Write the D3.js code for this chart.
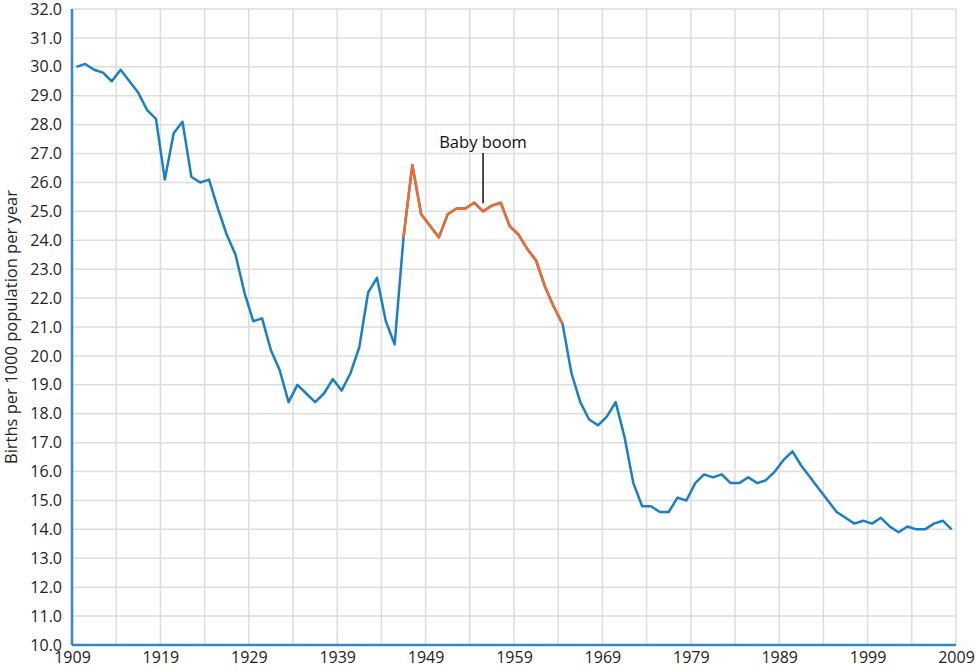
<!DOCTYPE html>
<html>
<head>
<meta charset="utf-8">
<script src="https://cdn.jsdelivr.net/npm/d3@7"></script>
<style>
  html, body { margin: 0; padding: 0; background: #fff; }
  svg { display: block; font-family: "Open Sans", sans-serif; }
</style>
</head>
<body>
<svg id="chart" width="976" height="671"></svg>
<script>
const startYear = 1909;
const birthRates = [
  30.0, 30.1, 29.9, 29.8, 29.5, 29.9, 29.5, 29.1, 28.5, 28.2,
  26.1, 27.7, 28.1, 26.2, 26.0, 26.1, 25.1, 24.2, 23.5, 22.2,
  21.2, 21.3, 20.2, 19.5, 18.4, 19.0, 18.7, 18.4, 18.7, 19.2,
  18.8, 19.4, 20.3, 22.2, 22.7, 21.2, 20.4, 24.1, 26.6, 24.9,
  24.5, 24.1, 24.9, 25.1, 25.1, 25.3, 25.0, 25.2, 25.3, 24.5,
  24.2, 23.7, 23.3, 22.4, 21.7, 21.1, 19.4, 18.4, 17.8, 17.6,
  17.9, 18.4, 17.2, 15.6, 14.8, 14.8, 14.6, 14.6, 15.1, 15.0,
  15.6, 15.9, 15.8, 15.9, 15.6, 15.6, 15.8, 15.6, 15.7, 16.0,
  16.4, 16.7, 16.2, 15.8, 15.4, 15.0, 14.6, 14.4, 14.2, 14.3,
  14.2, 14.4, 14.1, 13.9, 14.1, 14.0, 14.0, 14.2, 14.3, 14.0
];
const boomStart = 1946, boomEnd = 1964;
const annotationYear = 1955;
const annotationText = "Baby boom";
const xTickLabels = [1909, 1919, 1929, 1939, 1949, 1959, 1969, 1979, 1989, 1999, 2009];
const yTicks = d3.range(10, 32.5, 1);
const yLabel = "Births per 1000 population per year";

const data = birthRates.map((v, i) => ({ year: startYear + i, value: v }));

const svg = d3.select("#chart");
const x = d3.scaleLinear().domain([1909, 2009]).range([72, 956]);
const y = d3.scaleLinear().domain([10, 32]).range([645, 9]);

const blue = "#1a7fc5", orange = "#f36a2a", grid = "#dddddd";

// grid
svg.append("g").selectAll("line.v").data(d3.range(1914, 2010, 5)).join("line")
  .attr("x1", d => x(d)).attr("x2", d => x(d))
  .attr("y1", y(32)).attr("y2", y(10))
  .attr("stroke", grid).attr("stroke-width", 1.5);
svg.append("g").selectAll("line.h").data(yTicks.filter(d => d > 10)).join("line")
  .attr("x1", x(1909)).attr("x2", x(2009))
  .attr("y1", d => y(d)).attr("y2", d => y(d))
  .attr("stroke", grid).attr("stroke-width", 1.5);

// y axis
const yAxis = d3.axisLeft(y).tickValues(yTicks).tickFormat(d3.format(".1f")).tickSize(0).tickPadding(10);
const gy = svg.append("g").attr("transform", `translate(${x(1909)},0)`).call(yAxis);
gy.select(".domain").remove();
gy.selectAll("text").attr("font-size", 16).attr("fill", "#222").attr("font-family", "Open Sans");

// x axis
const xAxis = d3.axisBottom(x).tickValues(xTickLabels).tickFormat(d3.format("d")).tickSize(0).tickPadding(7);
const gx = svg.append("g").attr("transform", `translate(0,${y(10)})`).call(xAxis);
gx.select(".domain").remove();
gx.selectAll("text").attr("font-size", 16).attr("fill", "#222").attr("font-family", "Open Sans");

// axis lines
svg.append("line").attr("x1", x(1909)).attr("x2", x(1909)).attr("y1", y(32)).attr("y2", y(10))
  .attr("stroke", "#3388c8").attr("stroke-width", 2.5);
svg.append("line").attr("x1", x(1909)).attr("x2", x(2009)).attr("y1", y(10)).attr("y2", y(10))
  .attr("stroke", "#3388c8").attr("stroke-width", 2.5);

// lines
const line = d3.line().x(d => x(d.year + 0.5)).y(d => y(d.value));
svg.append("path").datum(data).attr("d", line)
  .attr("fill", "none").attr("stroke", blue).attr("stroke-width", 2.5).attr("stroke-linejoin", "round");
svg.append("path").datum(data.filter(d => d.year >= boomStart && d.year <= boomEnd)).attr("d", line)
  .attr("fill", "none").attr("stroke", orange).attr("stroke-width", 2.5).attr("stroke-linejoin", "round");

// annotation
const ap = data.find(d => d.year === annotationYear);
const ax = x(ap.year + 0.5);
svg.append("line").attr("x1", ax).attr("x2", ax).attr("y1", 153).attr("y2", y(ap.value) - 8)
  .attr("stroke", "#111").attr("stroke-width", 1.5);
svg.append("text").attr("x", ax).attr("y", 148).attr("text-anchor", "middle")
  .attr("font-size", 16.5).attr("fill", "#111").text(annotationText);

// y label
svg.append("text").attr("transform", `translate(17,${(y(10) + y(32)) / 2}) rotate(-90)`)
  .attr("text-anchor", "middle").attr("font-size", 16.5).attr("fill", "#222").text(yLabel);
</script>
</body>
</html>
